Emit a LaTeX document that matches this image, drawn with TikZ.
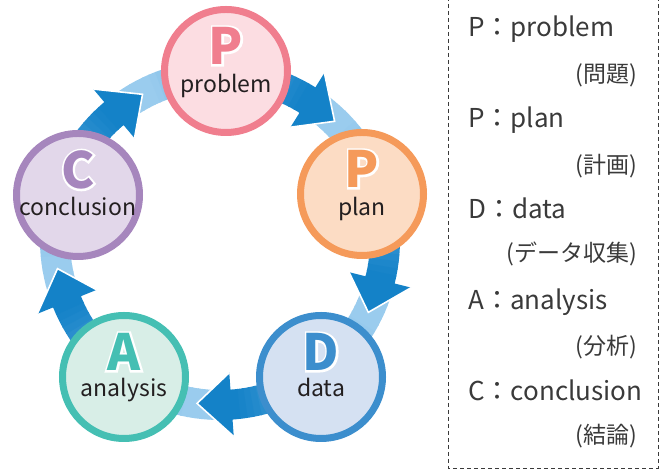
\documentclass[tikz,border=0pt]{standalone}
\usepackage{fontspec}
\setmainfont{Noto Sans CJK JP}
\newfontfamily\haloface{Noto Sans CJK JP}[BoldFeatures={FakeBold=8}]

\definecolor{probline}{HTML}{F07E8E}
\definecolor{probfill}{HTML}{FCDDE2}
\definecolor{planline}{HTML}{F59A5A}
\definecolor{planfill}{HTML}{FCDCC4}
\definecolor{dataline}{HTML}{3C8ECD}
\definecolor{datafill}{HTML}{D5E1F2}
\definecolor{analine}{HTML}{45BFB3}
\definecolor{anafill}{HTML}{D8EEE7}
\definecolor{concline}{HTML}{A686BD}
\definecolor{concfill}{HTML}{E2D7EA}
\definecolor{bandlight}{HTML}{9ACCEE}
\definecolor{banddark}{HTML}{1482C8}
\definecolor{inkgray}{HTML}{231F20}
\definecolor{keygray}{HTML}{3A3A3A}

\tikzset{
  stage/.style 2 args={circle, draw=#1, fill=#2, line width=7pt, minimum size=123pt, inner sep=0pt},
  bigletter/.style={font=\fontsize{50}{50}\selectfont\bfseries, inner sep=0pt},
  halo/.style={font=\haloface\fontsize{50}{50}\selectfont\bfseries, inner sep=0pt, text=white},
  stagename/.style={font=\fontsize{23}{23}\selectfont, text=inkgray, anchor=base, inner sep=0pt},
  keyline/.style={font=\fontsize{26}{26}\selectfont, text=keygray, anchor=base west, inner sep=0pt},
  keyword/.style={font=\fontsize{23}{23}\selectfont, text=keygray, anchor=east, inner sep=0pt},
  band/.style={line width=30pt}
}

\begin{document}
\begin{tikzpicture}[x=1pt,y=1pt]
\useasboundingbox (0,0) rectangle (666,470);
\coordinate (O) at (220,230);

%ring of arrows, light tail to dark head
\foreach \h in {118,46,-26,-98,-170}{
  \foreach \i in {0,...,29}{
    \pgfmathsetmacro\a{\h+79-\i*69/30}
    \pgfmathsetmacro\e{\a-69/30-0.4}
    \pgfmathtruncatemacro\p{max(0,min(100,(\i/29-0.15)/0.8*100))}
    \draw[band, banddark!\p!bandlight] ([shift={(\a:165)}]O) arc[start angle=\a, end angle=\e, radius=165];
  }
}
\foreach \h in {118,46,-26,-98,-170}{
  \pgfmathsetmacro\b{\h+12}
  \fill[banddark] ([shift={(\b:197)}]O) -- ([shift={(\h:165)}]O) -- ([shift={(\b:133)}]O) -- cycle;
  \draw[white, line width=1.6pt, line join=miter] ([shift={(\b:197)}]O) -- ([shift={(\h:165)}]O) -- ([shift={(\b:133)}]O);
}

%the five stages
\node[stage={probline}{probfill}] (problem) at (226,399) {};
\node[stage={planline}{planfill}] (plan) at (362,276) {};
\node[stage={dataline}{datafill}] (data) at (321,93) {};
\node[stage={analine}{anafill}] (analysis) at (124,93) {};
\node[stage={concline}{concfill}] (conclusion) at (78,275) {};

\node[halo] (problemH) at ([yshift=25]problem.center) {P};
\node[halo] (planH) at ([yshift=25]plan.center) {P};
\node[halo] (dataH) at ([yshift=25]data.center) {D};
\node[halo] (analysisH) at ([yshift=25]analysis.center) {A};
\node[halo] (conclusionH) at ([yshift=25]conclusion.center) {C};
\node[bigletter, text=probline] (problemL) at (problemH) {P};
\node[bigletter, text=planline] (planL) at (planH) {P};
\node[bigletter, text=dataline] (dataL) at (dataH) {D};
\node[bigletter, text=analine] (analysisL) at (analysisH) {A};
\node[bigletter, text=concline] (conclusionL) at (conclusionH) {C};

\node[stagename] (problemW) at ([yshift=-22]problem.center) {problem};
\node[stagename] (planW) at ([yshift=-22]plan.center) {plan};
\node[stagename] (dataW) at ([yshift=-20]data.center) {data};
\node[stagename] (analysisW) at ([yshift=-20]analysis.center) {analysis};
\node[stagename] (conclusionW) at ([yshift=-21]conclusion.center) {conclusion};

%key on the right
\draw[keygray, line width=0.8pt, dash pattern=on 4pt off 3pt] (448,480) |- (658,2) -- (658,480);
\node[keyline] (k1) at (468,433) {P：problem};
\node[keyword] (j1) at (637,395) {(問題)};
\node[keyline] (k2) at (468,342) {P：plan};
\node[keyword] (j2) at (637,304) {(計画)};
\node[keyline] (k3) at (468,251) {D：data};
\node[keyword] (j3) at (637,216) {(データ収集)};
\node[keyline] (k4) at (468,160) {A：analysis};
\node[keyword] (j4) at (637,123) {(分析)};
\node[keyline] (k5) at (468,69) {C：conclusion};
\node[keyword] (j5) at (637,34) {(結論)};
\end{tikzpicture}
\end{document}
